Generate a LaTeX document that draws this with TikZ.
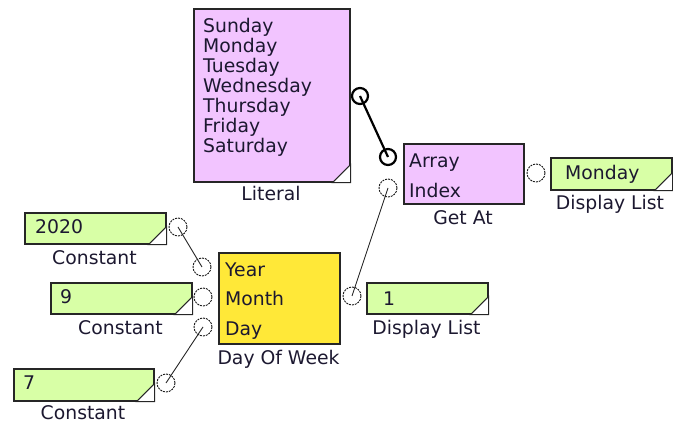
\documentclass[tikz,border=0pt]{standalone}
\usepackage{fontspec}
\setmainfont{DejaVu Sans}
\usepackage{xcolor}
\usetikzlibrary{positioning}
\definecolor{lilac}{HTML}{F2C4FF}
\definecolor{lime}{HTML}{D8FFA6}
\definecolor{gold}{HTML}{FFE838}
\definecolor{ink}{HTML}{1C1830}
\newcommand{\notch}[1]{\filldraw[fill=white,draw=black!85,line width=1pt]
  (#1.south east) -- ++(-18,0) -- ++(18,-18) -- cycle;}

\begin{document}
\begin{tikzpicture}[
    x=1pt,y=-1pt,
    every node/.style={font=\fontsize{18.8}{20}\selectfont,text=ink},
    block/.style={rectangle,draw=black!85,line width=1.6pt,anchor=north west,inner sep=0pt},
    txt/.style={anchor=base west,inner sep=0pt},
    caption/.style={anchor=base,inner sep=0pt},
    port/.style={circle,draw=black!90,dash pattern=on 2pt off 1pt,line width=0.9pt,minimum size=18pt,inner sep=0pt},
    bigport/.style={port,draw=black,solid,line width=2.2pt,minimum size=16pt},
    wire/.style={draw=black!85,line width=0.9pt},
    bigwire/.style={draw=black,line width=2.2pt}
]
\useasboundingbox (0,0) rectangle (673,427);

% Literal
\node[block,fill=lilac,minimum width=156pt,minimum height=173pt] (literal) at (193,8) {};
\notch{literal}
\foreach \d [count=\i] in {Sunday,Monday,Tuesday,Wednesday,Thursday,Friday,Saturday}
  \node[txt] (day\i) at (203,12.5+20*\i) {\d};
\node[caption] (literallbl) at (271,201) {Literal};
\node[bigport] (litout) at (360,96) {};

% Get At
\node[block,fill=lilac,minimum width=120pt,minimum height=60pt] (getat) at (403,143) {};
\node[txt] (arraytxt) at (409,168) {Array};
\node[txt] (indextxt) at (409,198) {Index};
\node[caption] (getatlbl) at (463,225) {Get At};
\node[bigport] (arrayin) at (388,157) {};
\node[port] (indexin) at (388,188) {};
\node[port] (getatout) at (536,173) {};

% Display List (Monday)
\node[block,fill=lime,minimum width=121pt,minimum height=32pt] (showday) at (550,157) {};
\notch{showday}
\node[txt] (showdaytxt) at (565,180) {Monday};
\node[caption] (showdaylbl) at (610,210) {Display List};

% Day Of Week
\node[block,fill=gold,minimum width=121pt,minimum height=91pt] (dow) at (218,252) {};
\node[txt] (yeartxt) at (225,277) {Year};
\node[txt] (monthtxt) at (225,306) {Month};
\node[txt] (daytxt) at (225,336) {Day};
\node[caption] (dowlbl) at (278.5,365) {Day Of Week};
\node[port] (yearin) at (202,267) {};
\node[port] (monthin) at (203,297) {};
\node[port] (dayin) at (203,327) {};
\node[port] (dowout) at (352,296) {};

% Display List (1)
\node[block,fill=lime,minimum width=121pt,minimum height=31pt] (shownum) at (366,282) {};
\notch{shownum}
\node[txt] (shownumtxt) at (383,306) {1};
\node[caption] (shownumlbl) at (426.5,335) {Display List};

% Constants
\node[block,fill=lime,minimum width=141pt,minimum height=31pt] (year) at (24,212) {};
\notch{year}
\node[txt] (yeartext) at (35,234) {2020};
\node[caption] (yearlbl) at (94.5,265) {Constant};
\node[port] (yearout) at (178,227) {};

\node[block,fill=lime,minimum width=141pt,minimum height=31pt] (month) at (50,282) {};
\notch{month}
\node[txt] (monthtext) at (60,304) {9};
\node[caption] (monthlbl) at (120.5,335) {Constant};

\node[block,fill=lime,minimum width=140pt,minimum height=32pt] (day) at (13,368) {};
\notch{day}
\node[txt] (daytext) at (23,390) {7};
\node[caption] (daylbl) at (83,420) {Constant};
\node[port] (dayout) at (166,383) {};

% wires
\draw[bigwire] (litout.center) -- (arrayin.center);
\draw[wire] (yearout.center) -- (yearin.center);
\draw[wire] (dayout.center) -- (dayin.center);
\draw[wire] (dowout.center) -- (indexin.center);
\end{tikzpicture}
\end{document}
